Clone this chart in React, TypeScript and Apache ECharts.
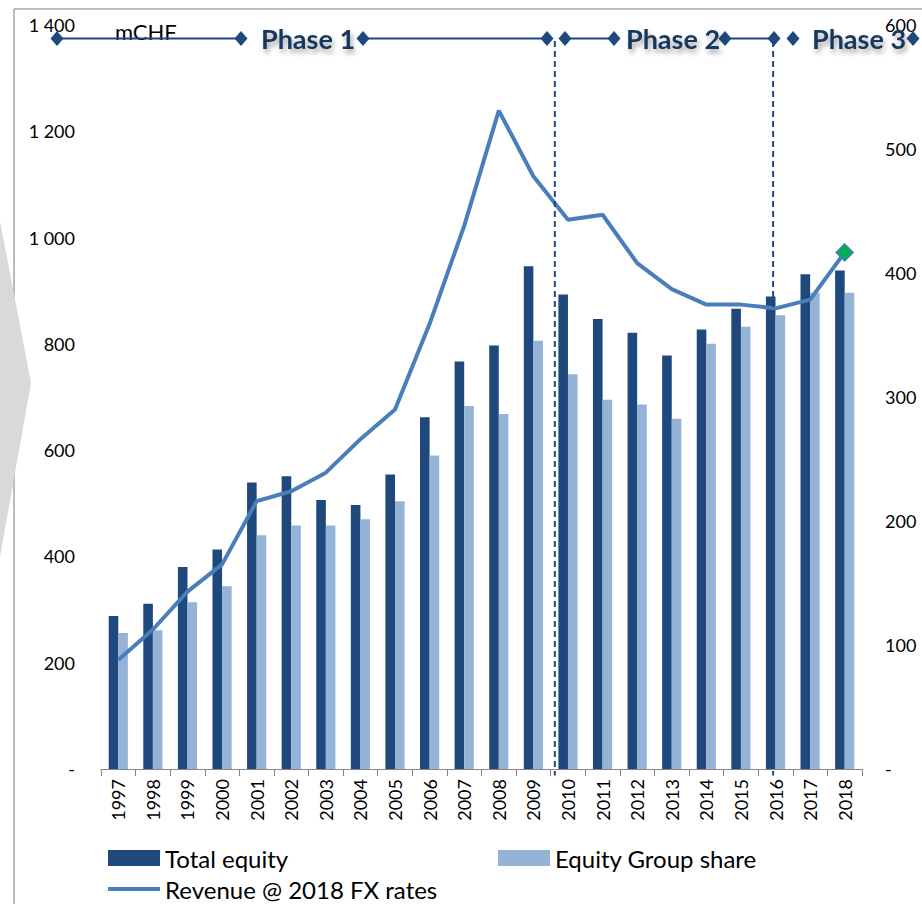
import React, { useEffect, useRef } from "react";
import * as echarts from "echarts";

const years = ["1997","1998","1999","2000","2001","2002","2003","2004","2005","2006","2007","2008","2009","2010","2011","2012","2013","2014","2015","2016","2017","2018"];
const totalEquity = [288, 311, 380, 413, 539, 551, 506, 497, 554, 662, 767, 797, 946, 893, 847, 821, 778, 827, 866, 889, 931, 938];
const groupShare = [256, 261, 314, 344, 440, 458, 458, 470, 504, 590, 683, 668, 806, 743, 695, 686, 659, 800, 832, 854, 896, 896];
const revenue = [88, 112.5, 143, 165, 216, 224, 239, 266, 290, 359, 438, 531, 478, 443, 447, 408, 387, 374.5, 374.5, 371.5, 378.5, 416.6];
const phaseBreaks = [12.62, 18.93];
const leftTicks = { min: 0, max: 1400, interval: 200 };
const rightTicks = { min: 0, max: 600, interval: 100 };
const phaseLabels = ["Phase 1", "Phase 2", "Phase 3"];

const DARK = "#1F497D";
const LIGHT = "#95B3D7";
const LINE = "#4A7EBB";
const FONT = "Lato, 'Open Sans', sans-serif";

function fmt(v: number) {
  if (v === 0) return "-";
  const s = String(v);
  return s.length > 3 ? s.slice(0, s.length - 3) + " " + s.slice(-3) : s;
}

function diamond(cx: number, cy: number) {
  return {
    type: "polygon",
    shape: { points: [[cx, cy - 7.5], [cx + 6.5, cy], [cx, cy + 7.5], [cx - 6.5, cy]] },
    style: { fill: DARK },
    z: 20,
  };
}

function hline(x1: number, x2: number, y: number) {
  return { type: "line", shape: { x1, y1: y, x2, y2: y }, style: { stroke: DARK, lineWidth: 2 }, z: 19 };
}

function phaseText(label: string, cx: number) {
  return {
    type: "text",
    x: cx,
    y: 38,
    z: 21,
    style: {
      text: label,
      fill: "#17375E",
      font: `bold 27px ${FONT}`,
      align: "center",
      verticalAlign: "middle",
      textShadowColor: "rgba(0,0,0,0.35)",
      textShadowBlur: 5,
      textShadowOffsetX: 2,
      textShadowOffsetY: 4,
    },
  };
}

export default function App() {
  const ref = useRef<HTMLDivElement>(null);
  useEffect(() => {
    document.body.style.margin = "0";
    if (!ref.current) return;
    const chart = echarts.init(ref.current, null, { renderer: "svg" });
    const ty = 38.5;
    const legendText = { fontSize: 24, color: "#000", fontFamily: FONT };
    const option: any = {
      animation: false,
      backgroundColor: "#ffffff",
      grid: { left: 101, right: 60, top: 25, bottom: 135 },
      xAxis: [
        {
          type: "category",
          data: years,
          axisLine: { lineStyle: { color: "#868686", width: 1 } },
          axisTick: { show: true, length: 7, lineStyle: { color: "#868686" } },
          axisLabel: { rotate: 90, fontSize: 18, color: "#000", fontFamily: FONT, margin: 10 },
        },
        { type: "value", min: -0.5, max: 21.5, show: false },
      ],
      yAxis: [
        {
          type: "value",
          ...leftTicks,
          splitLine: { show: false },
          axisLine: { show: false },
          axisTick: { show: false },
          axisLabel: { formatter: fmt, fontSize: 18, color: "#000", fontFamily: FONT, margin: 26 },
        },
        {
          type: "value",
          ...rightTicks,
          splitLine: { show: false },
          axisLine: { show: false },
          axisTick: { show: false },
          axisLabel: { formatter: fmt, fontSize: 18, color: "#000", fontFamily: FONT, margin: 23 },
        },
      ],
      legend: [
        {
          data: [{ name: "Total equity", icon: "rect" }],
          left: 108, top: 846, padding: 0, itemWidth: 52, itemHeight: 16,
          textStyle: legendText,
        },
        {
          data: [{ name: "Equity Group share", icon: "rect" }],
          left: 498, top: 846, padding: 0, itemWidth: 52, itemHeight: 16,
          textStyle: legendText,
        },
        {
          data: [{ name: "Revenue @ 2018 FX rates", icon: "rect" }],
          left: 108, top: 877, padding: 0, itemWidth: 52, itemHeight: 4,
          textStyle: legendText,
        },
      ],
      series: [
        {
          name: "Total equity",
          type: "bar",
          data: totalEquity,
          barWidth: 9.6,
          barGap: "0%",
          itemStyle: { color: DARK },
        },
        {
          name: "Equity Group share",
          type: "bar",
          data: groupShare,
          barWidth: 9.6,
          barGap: "0%",
          itemStyle: { color: LIGHT },
        },
        {
          name: "Revenue @ 2018 FX rates",
          type: "line",
          yAxisIndex: 1,
          symbol: "none",
          showSymbol: true,
          lineStyle: { color: LINE, width: 4 },
          itemStyle: { color: LINE },
          z: 5,
          data: revenue.map((v, i) =>
            i === revenue.length - 1
              ? { value: v, symbol: "diamond", symbolSize: 17, itemStyle: { color: "#00B050", borderColor: LINE, borderWidth: 1.5 } }
              : v
          ),
        },
        ...phaseBreaks.map((b, k) => ({
          name: "break" + k,
          type: "line",
          xAxisIndex: 1,
          yAxisIndex: 0,
          symbol: "none",
          silent: true,
          clip: false,
          z: 6,
          lineStyle: { color: DARK, width: 2, type: [6, 4] },
          data: [[b, 1370], [b, -12]],
        })),
      ],
      graphic: [
        { type: "line", shape: { x1: 14, y1: 9, x2: 922, y2: 9 }, style: { stroke: "#A6A6A6", lineWidth: 1.5 }, z: 1 },
        { type: "line", shape: { x1: 14, y1: 9, x2: 14, y2: 904 }, style: { stroke: "#A6A6A6", lineWidth: 1.5 }, z: 1 },
        { type: "polygon", shape: { points: [[0, 221], [31, 383], [0, 557]] }, style: { fill: "#D9D9D9" }, z: 2 },
        { type: "text", x: 115, y: 31, z: 18, style: { text: "mCHF", fill: "#000", font: `22px ${FONT}`, verticalAlign: "middle" } },
        hline(57, 241, ty),
        hline(363, 547, ty),
        hline(565, 614, ty),
        hline(725, 774, ty),
        diamond(57, ty), diamond(241, ty), diamond(363, ty), diamond(547, ty),
        diamond(565, ty), diamond(614, ty), diamond(725, ty), diamond(774, ty),
        diamond(793, ty), diamond(913, ty),
        phaseText(phaseLabels[0], 308),
        phaseText(phaseLabels[1], 673),
        phaseText(phaseLabels[2], 859),
      ],
    };
    chart.setOption(option);
    return () => chart.dispose();
  }, []);
  return <div ref={ref} style={{ width: 922, height: 904 }} />;
}
